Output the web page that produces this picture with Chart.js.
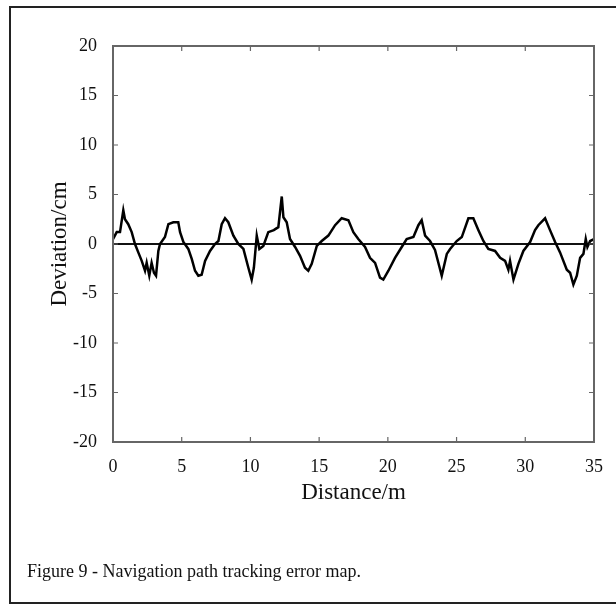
<!DOCTYPE html>
<html>
<head>
<meta charset="utf-8">
<script src="https://cdn.jsdelivr.net/npm/chart.js@4.4.1/dist/chart.umd.min.js"></script>
<style>
  html, body { margin: 0; padding: 0; background: #fff; }
  #wrap { position: relative; width: 616px; height: 612px; overflow: hidden; }
  #frame { position: absolute; left: 9px; top: 6px; width: 620px; height: 598px; border: 2px solid #222; box-sizing: border-box; }
  canvas { position: absolute; left: 0; top: 0; }
  #caption { position: absolute; left: 27px; top: 561px; font-family: "Liberation Serif", "Times New Roman", serif; font-size: 18px; color: #111; }
</style>
</head>
<body>
<div id="wrap">
  <div id="frame"></div>
  <canvas id="myChart" width="616" height="612"></canvas>
  <div id="caption">Figure 9 - Navigation path tracking error map.</div>
</div>
<script>
// distance along the path (m) and tracking deviation (cm)
const distancia = [0, 0.27, 0.51, 0.75, 0.87, 1.11, 1.36, 1.6, 1.84, 2.09,
  2.33, 2.45, 2.64, 2.81, 2.98, 3.13, 3.30, 3.42, 3.78, 4.03,
  4.39, 4.75, 4.88, 5.12, 5.48, 5.73, 5.97, 6.21, 6.45, 6.70,
  7.06, 7.42, 7.67, 7.91, 8.15, 8.39, 8.76, 9.12, 9.49, 9.85,
  10.09, 10.25, 10.46, 10.65, 10.94, 11.30, 11.70, 12.03, 12.28, 12.40,
  12.64, 12.88, 13.25, 13.61, 13.97, 14.21, 14.46, 14.83, 15.19, 15.67,
  16.16, 16.64, 17.13, 17.49, 17.85, 18.34, 18.70, 19.07, 19.43, 19.67,
  20.04, 20.52, 21.01, 21.37, 21.86, 22.22, 22.46, 22.71, 23.07, 23.43,
  23.75, 23.92, 24.29, 24.53, 25.01, 25.38, 25.86, 26.22, 26.59, 26.95,
  27.31, 27.80, 28.17, 28.53, 28.77, 28.89, 29.14, 29.50, 29.86, 30.35,
  30.71, 30.95, 31.44, 31.80, 32.17, 32.53, 33.02, 33.26, 33.50, 33.75,
  33.99, 34.23, 34.40, 34.52, 34.72, 35.0]
const desvio = [0.5, 1.2, 1.2, 3.4, 2.5, 2.0, 1.2, 0, -0.85, -1.7,
  -2.7, -1.9, -3.2, -1.9, -2.9, -3.2, -0.7, 0, 0.7, 2.0,
  2.2, 2.2, 1.2, 0.2, -0.5, -1.5, -2.7, -3.2, -3.1, -1.7,
  -0.7, 0, 0.3, 2.0, 2.6, 2.2, 0.85, 0, -0.5, -2.4,
  -3.6, -2.4, 0.85, -0.5, -0.2, 1.2, 1.4, 1.7, 4.8, 2.7,
  2.2, 0.5, -0.3, -1.2, -2.4, -2.7, -2.0, -0.2, 0.3, 0.85,
  1.9, 2.6, 2.4, 1.2, 0.5, -0.3, -1.4, -1.9, -3.4, -3.6,
  -2.7, -1.4, -0.3, 0.5, 0.7, 1.9, 2.4, 0.85, 0.3, -0.6,
  -2.3, -3.2, -1.0, -0.5, 0.3, 0.7, 2.6, 2.6, 1.4, 0.3,
  -0.5, -0.7, -1.4, -1.7, -2.6, -1.7, -3.6, -2.0, -0.7, 0.2,
  1.4, 1.9, 2.6, 1.4, 0.2, -0.85, -2.6, -2.9, -4.1, -3.2,
  -1.4, -1.0, 0.5, -0.3, 0.3, 0.5]

// reference line at zero deviation
const zeroX = [0, 35]
const zeroY = [0, 0]

const ticksX = [0, 5, 10, 15, 20, 25, 30, 35]
const ticksY = [-20, -15, -10, -5, 0, 5, 10, 15, 20]

const fonte = "'Liberation Serif', 'Times New Roman', serif"

// box round the plot with inward ticks, like the matlab figure
const caixa = {
  id: 'caixa',
  afterDraw(chart) {
    const { ctx, chartArea: a, scales } = chart
    ctx.save()
    ctx.strokeStyle = '#666'
    ctx.lineWidth = 2
    ctx.strokeRect(a.left, a.top, a.right - a.left, a.bottom - a.top)
    ctx.lineWidth = 1.2
    const len = 5
    ticksX.forEach(v => {
      const px = scales.x.getPixelForValue(v)
      ctx.beginPath()
      ctx.moveTo(px, a.bottom); ctx.lineTo(px, a.bottom - len)
      ctx.moveTo(px, a.top); ctx.lineTo(px, a.top + len)
      ctx.stroke()
    })
    ticksY.forEach(v => {
      const py = scales.y.getPixelForValue(v)
      ctx.beginPath()
      ctx.moveTo(a.left, py); ctx.lineTo(a.left + len, py)
      ctx.moveTo(a.right, py); ctx.lineTo(a.right - len, py)
      ctx.stroke()
    })
    ctx.restore()
  }
}

const ctx = document.getElementById('myChart').getContext('2d')
const chart = new Chart(ctx, {
  type: 'line',
  data: {
    datasets: [{
      data: distancia.map((d, i) => ({ x: d, y: desvio[i] })),
      borderColor: '#000',
      borderWidth: 2.5,
      pointRadius: 0,
      tension: 0
    }, {
      data: zeroX.map((d, i) => ({ x: d, y: zeroY[i] })),
      borderColor: '#111',
      borderWidth: 2,
      pointRadius: 0
    }]
  },
  options: {
    responsive: false,
    animation: false,
    layout: { padding: { left: 0, top: 46, right: 22, bottom: 0 } },
    plugins: { legend: { display: false }, tooltip: { enabled: false } },
    scales: {
      x: {
        type: 'linear', min: 0, max: 35,
        afterBuildTicks: s => { s.ticks = ticksX.map(v => ({ value: v })) },
        afterFit: s => { s.height = 612 - 442 },
        grid: { display: false },
        border: { display: false },
        ticks: { color: '#111', padding: 6, font: { family: fonte, size: 18 } },
        title: { display: true, text: 'Distance/m', color: '#111', font: { family: fonte, size: 23 }, padding: { top: 0, bottom: 105 } }
      },
      y: {
        type: 'linear', min: -20, max: 20,
        afterBuildTicks: s => { s.ticks = ticksY.map(v => ({ value: v })) },
        afterFit: s => { s.width = 113 },
        grid: { display: false },
        border: { display: false },
        ticks: { color: '#111', padding: 8, font: { family: fonte, size: 18 } },
        title: { display: true, text: 'Deviation/cm', color: '#111', font: { family: fonte, size: 23 }, padding: { top: 46, bottom: 0 } }
      }
    }
  },
  plugins: [caixa]
})
</script>
</body>
</html>
